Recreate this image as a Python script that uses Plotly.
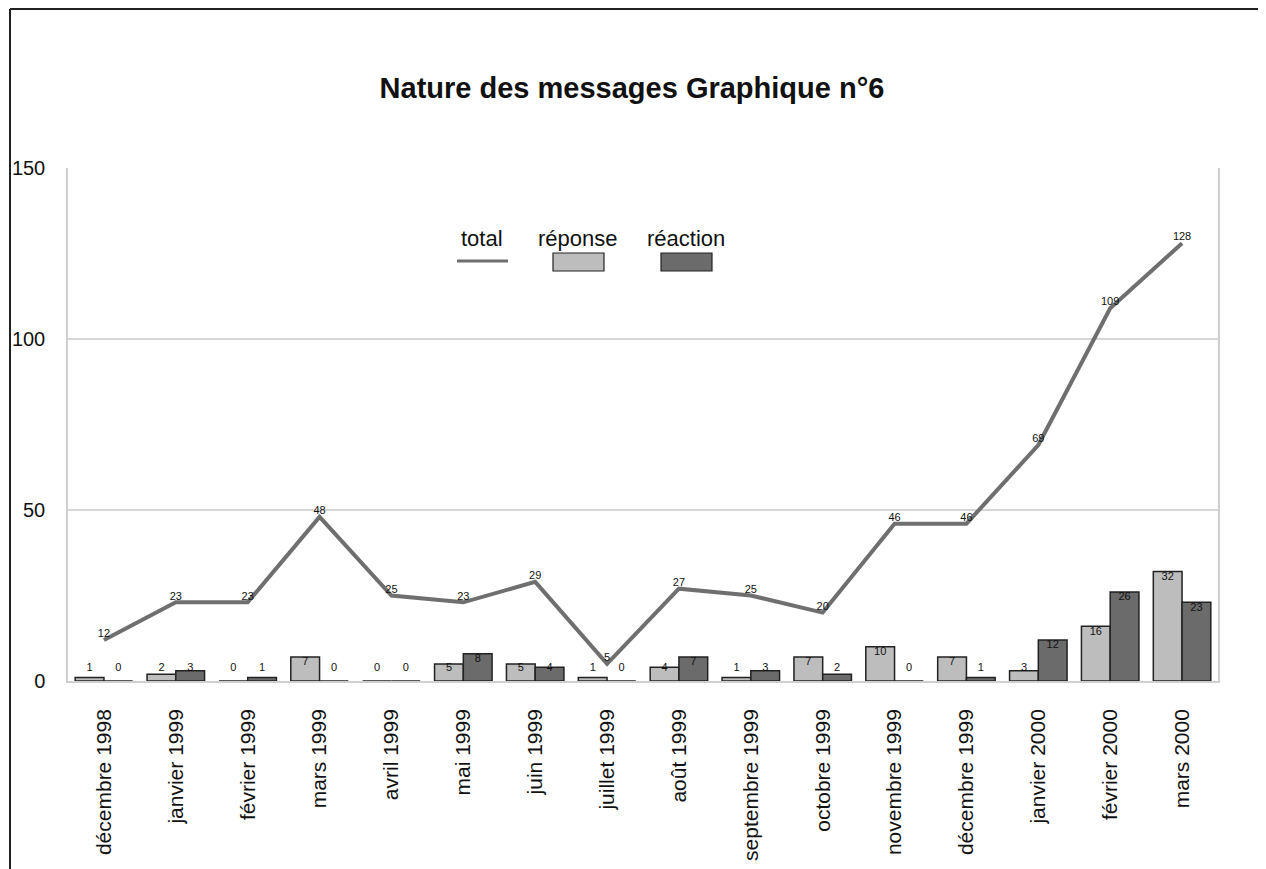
import plotly.graph_objects as go

months = ["décembre 1998", "janvier 1999", "février 1999", "mars 1999", "avril 1999",
          "mai 1999", "juin 1999", "juillet 1999", "août 1999", "septembre 1999",
          "octobre 1999", "novembre 1999", "décembre 1999", "janvier 2000",
          "février 2000", "mars 2000"]
total = [12, 23, 23, 48, 25, 23, 29, 5, 27, 25, 20, 46, 46, 69, 109, 128]
reponse = [1, 2, 0, 7, 0, 5, 5, 1, 4, 1, 7, 10, 7, 3, 16, 32]
reaction = [0, 3, 1, 0, 0, 8, 4, 0, 7, 3, 2, 0, 1, 12, 26, 23]

FONT = "Liberation Sans, Arial, sans-serif"
C_REP = "#bdbdbd"
C_REA = "#6b6b6b"
C_LINE = "#6f6f6f"

# page has an 8px body margin; compensate so the plot lands where the reference has it
OFF = 8
L, R, T, B = 68 - OFF, 48 + OFF, 168 - OFF, 188 + OFF
W, H = 1266, 869
PW = W - L - R
PH = H - T - B

idx = list(range(len(months)))

fig = go.Figure()
fig.add_trace(go.Bar(x=idx, y=reponse, name="réponse", marker=dict(color=C_REP, line=dict(color="#222", width=1.5))))
fig.add_trace(go.Bar(x=idx, y=reaction, name="réaction", marker=dict(color=C_REA, line=dict(color="#222", width=1.5))))

def lab_y(v):
    return max(v - 1.6, 3.6)

fig.add_trace(go.Scatter(x=[i - 0.2 for i in idx], y=[lab_y(v) for v in reponse], mode="text",
                         text=[str(v) for v in reponse], textfont=dict(size=11, color="#111", family=FONT),
                         showlegend=False, hoverinfo="skip"))
fig.add_trace(go.Scatter(x=[i + 0.2 for i in idx], y=[lab_y(v) for v in reaction], mode="text",
                         text=[str(v) for v in reaction], textfont=dict(size=11, color="#111", family=FONT),
                         showlegend=False, hoverinfo="skip"))
fig.add_trace(go.Scatter(x=idx, y=total, name="total", mode="lines+text",
                         line=dict(color=C_LINE, width=4),
                         text=[str(v) for v in total], textposition="top center",
                         textfont=dict(size=11, color="#111", family=FONT),
                         cliponaxis=False))

fig.update_layout(
    width=W, height=H,
    margin=dict(l=L, r=R, t=T, b=B),
    paper_bgcolor="white", plot_bgcolor="white",
    barmode="group", bargap=0.2, bargroupgap=0,
    showlegend=False,
    font=dict(family=FONT, color="#111"),
    title=dict(text="<b>Nature des messages Graphique n°6</b>", x=(632 - OFF) / W, xanchor="center",
               y=1 - (88 - OFF) / H, yanchor="middle", font=dict(size=29, family=FONT, color="#111")),
    xaxis=dict(range=[-0.5, 15.5], tickmode="array", tickvals=idx, ticktext=months,
               tickangle=-90, tickfont=dict(size=21, family=FONT, color="#111"),
               showgrid=False, zeroline=False, showline=True, linecolor="#cfcfcf", linewidth=1.5,
               mirror=False, ticks="", ticklabelstandoff=18, automargin=False),
    yaxis=dict(range=[0, 150], tickvals=[0, 50, 100, 150], tickfont=dict(size=20, family=FONT, color="#111"),
               showgrid=True, gridcolor="#d6d6d6", gridwidth=1.5, zeroline=False,
               showline=True, linecolor="#cfcfcf", linewidth=1.5, mirror=True, ticks="",
               ticklabelstandoff=17, automargin=False),
)

def px(x):
    return (x - OFF - L) / PW
def py(y):
    return (H - B - (y - OFF)) / PH

# outer chart frame (left and top edges)
fig.add_shape(type="line", xref="paper", yref="paper", x0=px(10), x1=px(10), y0=py(880), y1=py(9),
              line=dict(color="#222", width=2))
fig.add_shape(type="line", xref="paper", yref="paper", x0=px(10), x1=px(1280), y0=py(9), y1=py(9),
              line=dict(color="#222", width=2))

# legend drawn manually (text above symbol)
for txt, cx in [("total", 482), ("réponse", 578), ("réaction", 686)]:
    fig.add_annotation(text=txt, xref="paper", yref="paper", x=px(cx), y=py(238), showarrow=False,
                       xanchor="center", yanchor="middle",
                       font=dict(size=22, family=FONT, color="#111"))
fig.add_shape(type="line", xref="paper", yref="paper", x0=px(457), x1=px(508), y0=py(261), y1=py(261),
              line=dict(color=C_LINE, width=3))
fig.add_shape(type="rect", xref="paper", yref="paper", x0=px(553), x1=px(604), y0=py(271), y1=py(253),
              fillcolor=C_REP, line=dict(color="#222", width=1.2))
fig.add_shape(type="rect", xref="paper", yref="paper", x0=px(661), x1=px(712), y0=py(271), y1=py(253),
              fillcolor=C_REA, line=dict(color="#222", width=1.2))

fig.write_html("out.html")
